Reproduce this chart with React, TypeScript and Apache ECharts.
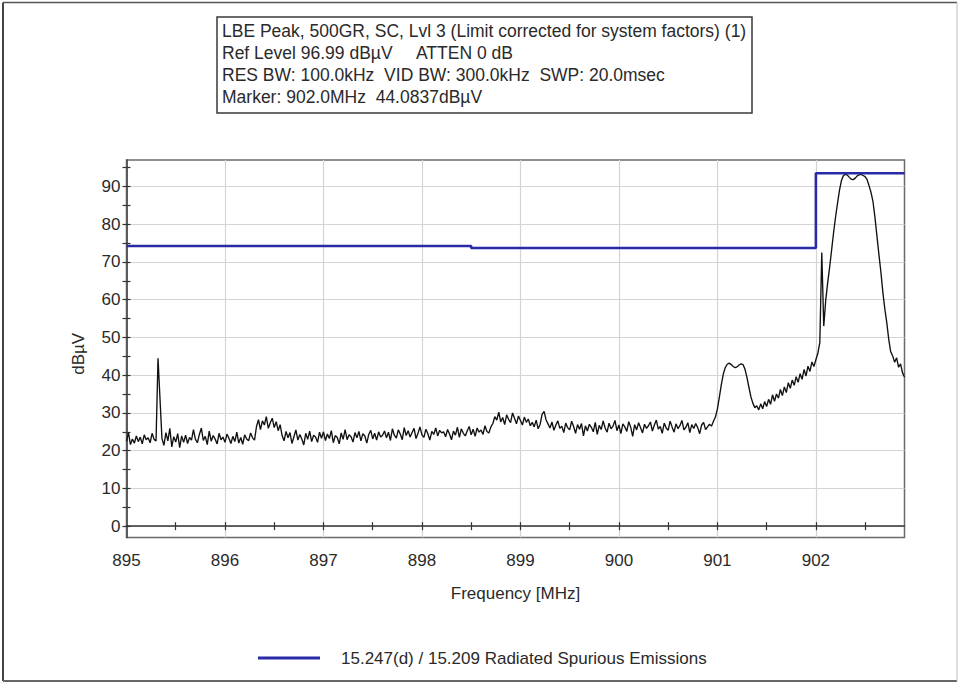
import React, { useEffect, useRef } from "react";
import * as echarts from "echarts";

// ---- data ----
const freqStartMHz = 895;
const freqStepMHz = 0.02;
const traceValues: number[] = [
  // 895.00 - 895.30
  22.5, 24.8, 21.6, 23.1, 22.0, 23.9, 22.4, 23.6, 21.8, 24.2, 22.9, 23.4, 22.1, 24.6, 23.0, 22.6,
  // spike 895.32 / 895.34
  44.5, 33.8,
  // 895.36 - 896.30
  23.2, 21.4, 24.8, 22.6, 25.9, 21.0, 23.7, 22.3, 24.5, 20.8,
  23.9, 22.2, 24.1, 21.9, 23.5, 22.8, 25.6, 23.0, 22.1, 24.3,
  26.0, 22.7, 23.8, 21.6, 25.2, 22.5, 24.0, 23.1, 21.8, 24.6,
  22.9, 23.6, 22.2, 24.4, 23.3, 21.9, 23.8, 22.4, 24.9, 22.0,
  23.5, 21.7, 24.2, 23.1, 22.6, 24.7, 23.4, 22.8,
  // 896.32 - 896.56
  26.4, 28.2, 25.6, 27.9, 26.8, 29.0, 25.9, 27.4, 28.6, 26.1, 27.7, 25.3, 26.9,
  // 896.58 - 897.00
  24.0, 22.6, 25.1, 23.4, 24.8, 21.9, 23.7, 25.5, 22.8, 24.3,
  23.1, 21.5, 24.6, 23.0, 25.2, 22.4, 24.1, 23.6, 22.2, 24.9, 23.3, 25.0,
  // 897.02 - 897.60
  22.7, 24.4, 23.2, 25.3, 22.1, 24.0, 23.5, 21.8, 24.7, 23.0,
  25.6, 22.9, 24.2, 23.7, 22.3, 24.8, 23.4, 25.1, 22.6, 24.5,
  23.9, 22.0, 24.3, 25.4, 23.1, 24.6, 22.8, 25.0, 23.6, 24.1,
  // 897.62 - 898.20
  25.2, 23.4, 24.9, 22.7, 25.8, 24.1, 23.3, 25.5, 24.4, 22.9,
  26.1, 24.0, 25.3, 23.6, 24.8, 25.9, 23.2, 24.6, 26.3, 24.2,
  23.5, 25.7, 24.5, 22.8, 25.1, 24.3, 26.0, 23.9, 25.4, 24.7,
  // 898.22 - 898.70
  25.0, 23.7, 25.6, 24.4, 22.9, 25.2, 24.1, 26.2, 23.5, 25.8,
  24.6, 23.9, 25.3, 26.4, 24.2, 25.7, 23.8, 26.0, 24.9, 25.5,
  24.3, 26.6, 25.1, 24.7, 26.3,
  // 898.72 - 899.10
  27.2, 29.0, 28.1, 30.2, 27.6, 28.8, 26.9, 29.5, 28.3, 27.4,
  30.0, 28.6, 27.1, 29.2, 28.0, 26.8, 28.9, 27.5, 28.4, 26.6,
  // 899.12 - 899.70
  27.5, 26.3, 28.1, 25.8, 27.0, 29.6, 30.4, 28.2, 27.1, 26.0,
  27.6, 25.4, 26.8, 27.9, 25.9, 26.5, 24.8, 27.3, 26.1, 25.5,
  27.8, 26.4, 24.6, 26.9, 25.7, 27.2, 23.9, 26.6, 25.2, 27.0,
  // 899.72 - 900.30
  26.2, 25.0, 27.5, 24.3, 26.7, 25.6, 27.9, 26.0, 24.9, 27.3,
  25.8, 26.5, 28.0, 25.3, 26.8, 24.5, 27.1, 26.3, 25.1, 27.7,
  26.2, 23.8, 26.9, 25.5, 27.4, 26.1, 24.7, 27.0, 25.9, 26.6,
  // 900.32 - 900.94
  27.6, 25.2, 26.8, 28.1, 25.7, 26.4, 24.6, 27.3, 26.0, 25.4,
  27.8, 26.3, 24.9, 27.1, 25.8, 26.7, 28.0, 25.5, 26.2, 27.4,
  24.8, 26.9, 25.9, 27.2, 26.1, 24.5, 26.8, 27.5, 25.6, 26.3,
  27.0, 26.5,
  // 900.96 - 901.38
  27.8, 28.9, 31.0, 34.2, 37.5, 40.3, 42.0, 42.9, 43.2, 42.8,
  42.3, 42.0, 42.2, 42.7, 43.0, 42.8, 41.6, 39.4, 36.8, 34.3,
  32.6, 31.4,
  // 901.40 - 901.98
  31.9, 30.8, 32.4, 31.1, 33.0, 31.7, 33.6, 32.3, 34.8, 33.1,
  35.0, 33.9, 36.2, 34.6, 36.9, 35.4, 38.0, 36.5, 38.7, 37.3,
  39.6, 38.1, 40.4, 38.9, 41.5, 39.8, 42.4, 41.0, 43.5, 42.3,
  // 902.00 - 902.90
  44.1, 45.8, 48.6, 72.5, 53.0, 59.8, 64.5, 68.6, 73.2, 77.8,
  81.9, 85.6, 89.0, 91.6, 92.9, 93.2, 93.0, 92.4, 91.9, 91.8,
  92.2, 92.8, 93.1, 93.2, 92.9, 92.6, 91.8, 90.2, 88.4, 86.0,
  81.8, 76.9, 72.0, 67.4, 62.0, 57.6, 53.9, 49.5, 46.2, 45.1,
  43.4, 44.6, 42.1, 43.0, 40.6, 39.5,
];

const limitFreqs = [895, 898.5, 898.5, 902.0, 902.0, 902.9];
const limitLevels = [74.2, 74.2, 73.7, 73.7, 93.5, 93.5];

const xLabelValues = [895, 896, 897, 898, 899, 900, 901, 902];
const xTickValues = [895.5, 896, 896.5, 897, 897.5, 898, 898.5, 899, 899.5, 900, 900.5, 901, 901.5, 902, 902.5];
const yLabelValues = [0, 10, 20, 30, 40, 50, 60, 70, 80, 90];
const yTickValues = [0, 5, 10, 15, 20, 25, 30, 35, 40, 45, 50, 55, 60, 65, 70, 75, 80, 85, 90, 95];

const headerLines = [
  "LBE Peak, 500GR, SC, Lvl 3 (Limit corrected for system factors) (1)",
  "Ref Level 96.99 dB\u00b5V     ATTEN 0 dB",
  "RES BW: 100.0kHz  VID BW: 300.0kHz  SWP: 20.0msec",
  "Marker: 902.0MHz  44.0837dB\u00b5V",
];
const legendName = "15.247(d) / 15.209 Radiated Spurious Emissions";
const xAxisTitle = "Frequency [MHz]";
const yAxisTitle = "dB\u00b5V";

const FONT = '"Liberation Sans", Arial, sans-serif';
const TEXT = "#2a2a2a";
const BLUE = "#2a2aa6";

export default function App() {
  const ref = useRef<HTMLDivElement>(null);
  useEffect(() => {
    if (!ref.current) return;
    const chart = echarts.init(ref.current, undefined, { renderer: "svg" });
    const traceData = traceValues.map((v, i) => [
      +(freqStartMHz + i * freqStepMHz).toFixed(2),
      v,
    ]);
    const limitData = limitFreqs.map((f, i) => [f, limitLevels[i]]);

    const xBase = { type: "value" as const, min: 895, max: 902.9, position: "bottom" as const };
    const yBase = { type: "value" as const, min: -3, max: 97, position: "left" as const };

    chart.setOption({
      animation: false,
      backgroundColor: "#fff",
      textStyle: { fontFamily: FONT },
      grid: {
        left: 126.5,
        right: 55.5,
        top: 160,
        bottom: 145.5,
        show: true,
        borderColor: "#6a6a6a",
        borderWidth: 1.5,
        backgroundColor: "transparent",
      },
      xAxis: [
        {
          ...xBase,
          axisLine: { show: true, onZero: true, lineStyle: { color: "#333", width: 1.5 } },
          axisTick: { show: true, customValues: xTickValues, length: 4, inside: false, lineStyle: { color: "#333", width: 1.2 } },
          axisLabel: { show: true, customValues: xLabelValues, margin: 14, color: TEXT, fontSize: 17, fontFamily: FONT },
          splitLine: { show: false },
          name: xAxisTitle,
          nameLocation: "middle",
          nameGap: 47,
          nameTextStyle: { color: TEXT, fontSize: 17, fontFamily: FONT },
        },
        {
          ...xBase,
          axisLine: { show: false, onZero: true },
          axisTick: { show: true, customValues: xTickValues, length: 4, inside: true, lineStyle: { color: "#333", width: 1.2 } },
          axisLabel: { show: false },
          splitLine: { show: false },
        },
        {
          ...xBase,
          axisLine: { show: false, onZero: true },
          axisTick: { show: false, customValues: xLabelValues },
          axisLabel: { show: false },
          splitLine: { show: true, lineStyle: { color: "#d4d4d4", width: 1.2 } },
        },
      ],
      yAxis: [
        {
          ...yBase,
          axisLine: { show: true, onZero: false, lineStyle: { color: "#333", width: 1.5 } },
          axisTick: { show: true, customValues: yTickValues, length: 4, inside: false, lineStyle: { color: "#333", width: 1.2 } },
          axisLabel: { show: true, customValues: yLabelValues, margin: 6, color: TEXT, fontSize: 17, fontFamily: FONT },
          splitLine: { show: false },
          name: yAxisTitle,
          nameLocation: "middle",
          nameGap: 40,
          nameTextStyle: { color: TEXT, fontSize: 17, fontFamily: FONT, padding: [0, 0, 0, -10] },
        },
        {
          ...yBase,
          axisLine: { show: false, onZero: false },
          axisTick: { show: true, customValues: yTickValues, length: 4, inside: true, lineStyle: { color: "#333", width: 1.2 } },
          axisLabel: { show: false },
          splitLine: { show: false },
        },
        {
          ...yBase,
          axisLine: { show: false, onZero: false },
          axisTick: { show: false, customValues: yLabelValues },
          axisLabel: { show: false },
          splitLine: { show: true, lineStyle: { color: "#d4d4d4", width: 1.2 } },
        },
      ],
      series: [
        {
          name: "Trace",
          type: "line",
          xAxisIndex: 0,
          yAxisIndex: 0,
          data: traceData,
          showSymbol: false,
          symbol: "none",
          lineStyle: { color: "#111", width: 1.35 },
          z: 3,
        },
        {
          name: legendName,
          type: "line",
          xAxisIndex: 0,
          yAxisIndex: 0,
          data: limitData,
          showSymbol: false,
          symbol: "none",
          lineStyle: { color: BLUE, width: 2.6 },
          z: 4,
        },
      ],
      graphic: [
        { type: "line", shape: { x1: 3, y1: 2.5, x2: 957, y2: 2.5 }, style: { stroke: "#555", lineWidth: 1.5 } },
        { type: "line", shape: { x1: 3, y1: 2.5, x2: 3, y2: 681 }, style: { stroke: "#444", lineWidth: 2 } },
        { type: "line", shape: { x1: 3, y1: 681, x2: 957, y2: 681 }, style: { stroke: "#666", lineWidth: 2 } },
        { type: "line", shape: { x1: 957, y1: 2.5, x2: 957, y2: 681 }, style: { stroke: "#bbb", lineWidth: 1 } },
        {
          type: "rect",
          shape: { x: 217, y: 17, width: 535, height: 96 },
          style: { fill: "#fff", stroke: "#3a3a3a", lineWidth: 1.5 },
          z: 10,
        },
        ...headerLines.map((t, i) => ({
          type: "text",
          x: 222,
          y: 31 + i * 22,
          z: 11,
          style: { text: t, fill: TEXT, fontSize: 17.5, fontFamily: FONT, verticalAlign: "middle", align: "left" },
        })),
        {
          type: "line",
          shape: { x1: 258, y1: 658, x2: 320, y2: 658 },
          style: { stroke: BLUE, lineWidth: 3 },
        },
        {
          type: "text",
          x: 341,
          y: 658,
          style: { text: legendName, fill: TEXT, fontSize: 17, fontFamily: FONT, verticalAlign: "middle", align: "left" },
        },
      ],
    });
    return () => chart.dispose();
  }, []);
  return (
    <div
      ref={ref}
      style={{ position: "fixed", left: 0, top: 0, width: 960, height: 683, background: "#fff" }}
    />
  );
}
